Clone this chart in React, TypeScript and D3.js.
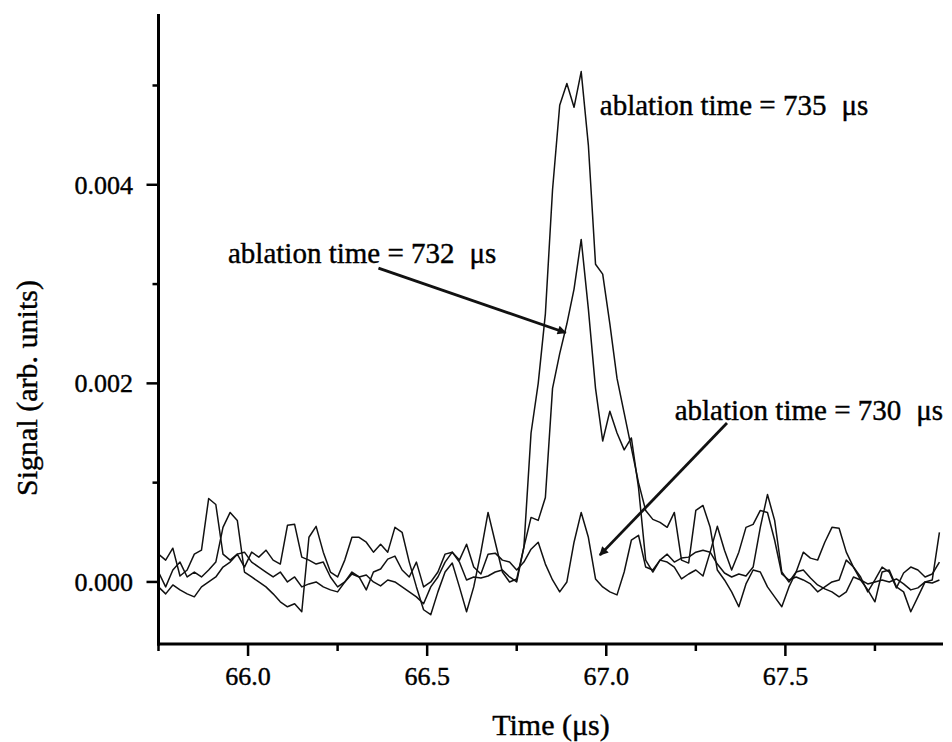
import React, { useRef, useEffect } from 'react';
import * as d3 from 'd3';

// sampling grid of the scope traces (µs)
const T_START = 65.75;
const T_STEP = 0.02;

// signals, in units of 10^-3 (arb. units)
const signal735 = [
  0.28, 0.22, 0.34, 0.06, 0.12, 0.28, 0.32, 0.84, 0.78, 0.28,
  0.22, 0.28, 0.15, 0.30, 0.25, 0.32, 0.22, 0.18, 0.57, 0.58,
  0.25, 0.22, 0.18, 0.20, 0.05, -0.05, 0.00, 0.10, 0.05, -0.08,
  0.10, 0.13, 0.23, 0.26, 0.12, 0.05, 0.20, -0.05, 0.00, 0.10,
  0.28, 0.30, 0.20, 0.02, 0.05, 0.04, 0.06, 0.10, 0.12, 0.05,
  0.00, 0.35, 1.50, 2.00, 2.70, 3.95, 4.80, 5.02, 4.78, 5.14,
  4.40, 3.20, 3.10, 2.60, 2.05, 1.70, 1.35, 1.00, 0.72, 0.63,
  0.60, 0.55, 0.70, 0.22, 0.19, 0.72, 0.77, 0.55, 0.12, 0.02,
  -0.10, -0.25, -0.02, 0.12, 0.10, -0.05, -0.15, -0.25, -0.05, 0.10,
  0.12, 0.04, -0.03, -0.07, -0.10, -0.15, -0.10, 0.05, 0.02, -0.02,
  0.00, 0.02, 0.00, 0.03, -0.02, -0.08, -0.06, 0.00, 0.02, 0.50,
];

const signal732 = [
  0.10, -0.05, 0.12, 0.20, 0.05, 0.10, 0.05, 0.12, 0.20, 0.55,
  0.70, 0.62, 0.10, 0.05, 0.00, -0.05, -0.12, -0.20, -0.25, -0.22,
  -0.30, 0.45, 0.56, 0.30, 0.10, 0.05, 0.22, 0.45, 0.45, 0.40,
  0.30, 0.38, 0.30, 0.55, 0.50, 0.20, -0.05, -0.28, -0.33, -0.10,
  0.10, 0.19, -0.05, -0.30, -0.05, 0.30, 0.70, 0.40, 0.10, 0.00,
  0.03, 0.35, 0.65, 0.62, 0.85, 1.95, 2.30, 2.60, 2.95, 3.45,
  2.75, 1.95, 1.42, 1.72, 1.50, 1.33, 1.45, 0.95, 0.22, 0.10,
  0.22, 0.28, 0.20, 0.24, 0.25, 0.30, 0.32, 0.30, 0.18, 0.09,
  0.05, 0.08, 0.06, 0.15, 0.55, 0.88, 0.62, 0.10, 0.00, 0.10,
  0.30, 0.24, 0.22, 0.40, 0.55, 0.54, 0.30, 0.15, 0.02, -0.08,
  -0.20, 0.10, 0.12, -0.05, -0.10, -0.30, -0.15, 0.00, -0.01, 0.02,
];

const signal730 = [
  -0.05, -0.12, -0.03, -0.08, -0.12, -0.15, -0.05, 0.00, 0.05, 0.15,
  0.20, 0.28, 0.30, 0.20, 0.15, 0.10, 0.05, 0.10, 0.00, 0.05,
  -0.05, -0.02, 0.00, -0.05, -0.08, -0.10, 0.00, 0.08, 0.05, 0.07,
  0.00, -0.04, 0.02, 0.00, -0.05, -0.10, -0.15, -0.22, -0.05, 0.05,
  0.20, 0.30, 0.22, 0.38, 0.15, 0.08, 0.28, 0.29, 0.22, 0.20,
  0.12, 0.20, 0.33, 0.40, 0.18, 0.02, -0.10, 0.00, 0.40, 0.70,
  0.45, 0.03, -0.05, -0.10, -0.13, 0.10, 0.42, 0.47, 0.15, 0.12,
  0.22, 0.20, 0.15, 0.03, 0.08, 0.12, 0.06, 0.30, 0.56, 0.32,
  0.12, 0.30, 0.55, 0.58, 0.72, 0.70, 0.42, 0.08, 0.02, 0.05,
  0.02, -0.02, -0.10, -0.05, 0.00, 0.02, 0.22, 0.15, 0.05, -0.10,
  0.02, 0.15, 0.10, -0.06, 0.09, 0.15, 0.12, 0.05, 0.08, 0.20,
];

const xMajorTicks = [66.0, 66.5, 67.0, 67.5];
const xMinorTicks = [65.75, 66.25, 66.75, 67.25, 67.75];
const yMajorTicks = [0, 2, 4];
const yMinorTicks = [1, 3, 5];

// annotation anchors in data units: [time, signal]
const labels = [
  { text: 'ablation time = 735', at: [66.982, 4.7] },
  { text: 'ablation time = 732', at: [65.944, 3.21] },
  { text: 'ablation time = 730', at: [67.191, 1.63] },
];
const arrows = [
  { from: [66.364, 3.16], to: [66.887, 2.51] },
  { from: [67.337, 1.6], to: [66.982, 0.27] },
];

const App = () => {
  const svgRef = useRef(null);

  useEffect(() => {
    const svg = d3.select(svgRef.current);
    svg.selectAll('*').remove();

    const left = 158.5, right = 943, top = 14, bottom = 644;
    const x = d3.scaleLinear().domain([65.75, 67.94]).range([left, right]);
    const y = d3.scaleLinear().domain([-0.625, 5.72]).range([bottom, top]);

    const font = '"Liberation Serif", "Times New Roman", serif';
    svg.style('font-family', font);

    const defs = svg.append('defs');
    defs.append('marker')
      .attr('id', 'head')
      .attr('viewBox', '0 0 10 10')
      .attr('refX', 9)
      .attr('refY', 5)
      .attr('markerUnits', 'userSpaceOnUse')
      .attr('markerWidth', 15)
      .attr('markerHeight', 9)
      .attr('orient', 'auto')
      .append('path')
      .attr('d', 'M0,0 L10,5 L0,10 Z')
      .attr('fill', '#111');

    defs.append('clipPath')
      .attr('id', 'plot')
      .append('rect')
      .attr('x', left)
      .attr('y', top)
      .attr('width', right - left)
      .attr('height', bottom - top);

    const time = d3.range(signal735.length).map(i => T_START + i * T_STEP);
    const line = d3.line<number>()
      .x((_, i) => x(time[i]))
      .y(d => y(d));

    const gTraces = svg.append('g').attr('clip-path', 'url(#plot)');
    [signal730, signal732, signal735].forEach(s => {
      gTraces.append('path')
        .datum(s)
        .attr('d', line)
        .attr('fill', 'none')
        .attr('stroke', '#111')
        .attr('stroke-width', 1.5)
        .attr('stroke-linejoin', 'round');
    });

    // axes
    const gAxis = svg.append('g').attr('stroke', '#000');
    gAxis.append('line')
      .attr('x1', left).attr('x2', left)
      .attr('y1', top).attr('y2', bottom + 1.5)
      .attr('stroke-width', 3);
    gAxis.append('line')
      .attr('x1', left - 1.5).attr('x2', right)
      .attr('y1', bottom).attr('y2', bottom)
      .attr('stroke-width', 3);

    xMajorTicks.forEach(t => {
      gAxis.append('line')
        .attr('x1', x(t)).attr('x2', x(t))
        .attr('y1', bottom).attr('y2', bottom + 12)
        .attr('stroke-width', 2.5);
    });
    xMinorTicks.forEach(t => {
      gAxis.append('line')
        .attr('x1', x(t)).attr('x2', x(t))
        .attr('y1', bottom).attr('y2', bottom + 7)
        .attr('stroke-width', 2.5);
    });
    yMajorTicks.forEach(v => {
      gAxis.append('line')
        .attr('x1', left - 12).attr('x2', left)
        .attr('y1', y(v)).attr('y2', y(v))
        .attr('stroke-width', 2.5);
    });
    yMinorTicks.forEach(v => {
      gAxis.append('line')
        .attr('x1', left - 6).attr('x2', left)
        .attr('y1', y(v)).attr('y2', y(v))
        .attr('stroke-width', 2.5);
    });

    // text gets a hairline stroke to mimic the heavier scanned glyphs
    const heavy = (sel) => sel.attr('fill', '#000').attr('stroke', '#000').attr('stroke-width', 0.4);

    svg.append('g')
      .call(heavy)
      .selectAll('text')
      .data(xMajorTicks)
      .join('text')
      .attr('x', d => x(d))
      .attr('y', 685)
      .attr('text-anchor', 'middle')
      .attr('font-size', 26)
      .text(d => d.toFixed(1));

    svg.append('g')
      .call(heavy)
      .selectAll('text')
      .data(yMajorTicks)
      .join('text')
      .attr('x', 133)
      .attr('y', d => y(d))
      .attr('dy', '0.35em')
      .attr('text-anchor', 'end')
      .attr('font-size', 26)
      .text(d => (d / 1000).toFixed(3));

    svg.append('text')
      .call(heavy)
      .attr('x', 551)
      .attr('y', 735)
      .attr('text-anchor', 'middle')
      .attr('font-size', 30)
      .text('Time (μs)');

    svg.append('text')
      .call(heavy)
      .attr('transform', 'translate(37,388) rotate(-90)')
      .attr('text-anchor', 'middle')
      .attr('font-size', 30)
      .text('Signal (arb. units)');

    // annotations
    labels.forEach(l => {
      const t = svg.append('text')
        .call(heavy)
        .attr('x', x(l.at[0]))
        .attr('y', y(l.at[1]))
        .attr('font-size', 29)
        .text(l.text);
      t.append('tspan').attr('dx', 15).text('μs');
    });

    arrows.forEach(a => {
      svg.append('line')
        .attr('x1', x(a.from[0])).attr('y1', y(a.from[1]))
        .attr('x2', x(a.to[0])).attr('y2', y(a.to[1]))
        .attr('stroke', '#111')
        .attr('stroke-width', 2.8)
        .attr('marker-end', 'url(#head)');
    });
  }, []);

  return (
    <svg
      ref={svgRef}
      width={952}
      height={742}
      style={{ position: 'absolute', left: 0, top: 0, background: '#fff' }}
    />
  );
};

export default App;
